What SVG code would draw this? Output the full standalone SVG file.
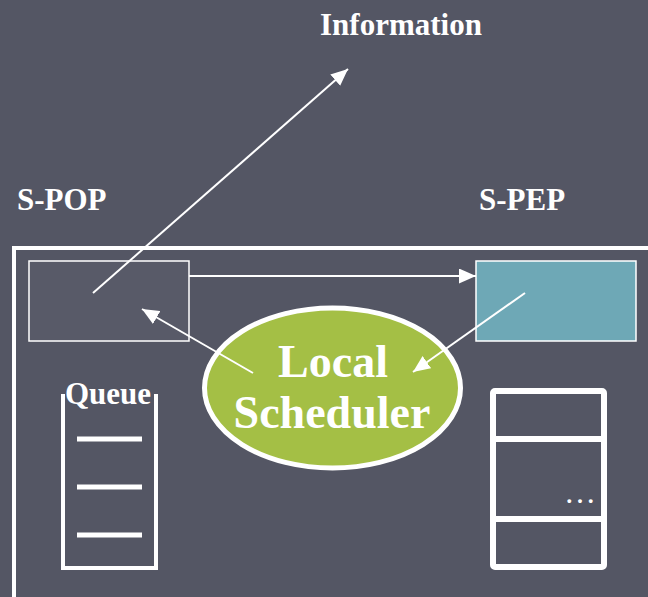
<svg xmlns="http://www.w3.org/2000/svg" width="648" height="597" viewBox="0 0 648 597">
<style>
.lbl{font-family:"Liberation Serif","Times New Roman",serif;font-weight:bold;fill:#fff}
.conn{stroke:#fff;stroke-width:2;fill:none}
</style>
<defs>
<marker id="ah" viewBox="0 0 10 10" refX="10" refY="5" markerWidth="17" markerHeight="15" markerUnits="userSpaceOnUse" orient="auto" preserveAspectRatio="none">
<path d="M0,0 L10,5 L0,10 Z" fill="#fff"/>
</marker>
</defs>
<rect width="648" height="597" fill="#545664"/>
<path d="M14,600 V248 H650" fill="none" stroke="#fff" stroke-width="4"/>
<text class="lbl" x="320" y="35" font-size="31">Information</text>
<g id="spop">
<text class="lbl" x="17" y="210" font-size="31">S-POP</text>
<rect x="29" y="261" width="160" height="80" fill="#585a68" stroke="#fff" stroke-width="1.5"/>
</g>
<g id="spep">
<text class="lbl" x="479" y="210" font-size="31">S-PEP</text>
<rect x="476" y="261" width="160" height="80" fill="#6ea8b6" stroke="#fff" stroke-width="1.5"/>
</g>
<g id="queue">
<path d="M63,394 V568 H156 V394" fill="none" stroke="#fff" stroke-width="4"/>
<path d="M77,439 H142 M77,487 H142 M77,535 H142" stroke="#fff" stroke-width="5"/>
<text class="lbl" x="65" y="404" font-size="31">Queue</text>
</g>
<g id="table">
<rect x="493" y="391" width="111" height="176" rx="2" fill="none" stroke="#fff" stroke-width="6"/>
<path d="M493,439 H604 M493,519 H604" stroke="#fff" stroke-width="6"/>
<text x="580" y="503" font-family="Liberation Serif,serif" font-size="32" fill="#fff" text-anchor="middle">…</text>
</g>
<g id="scheduler">
<ellipse cx="332.5" cy="388" rx="128" ry="80" fill="#a4bf45" stroke="#fff" stroke-width="5"/>
<text class="lbl" x="333" y="377" font-size="46" text-anchor="middle">Local</text>
<text class="lbl" x="332" y="428" font-size="46" text-anchor="middle">Scheduler</text>
</g>
<g id="connectors">
<line class="conn" x1="93" y1="293" x2="348" y2="69" marker-end="url(#ah)"/>
<line class="conn" x1="189" y1="276" x2="476" y2="276" marker-end="url(#ah)"/>
<line class="conn" x1="253" y1="373" x2="142" y2="309" marker-end="url(#ah)"/>
<line class="conn" x1="525" y1="293" x2="413" y2="372" marker-end="url(#ah)"/>
</g>
</svg>
